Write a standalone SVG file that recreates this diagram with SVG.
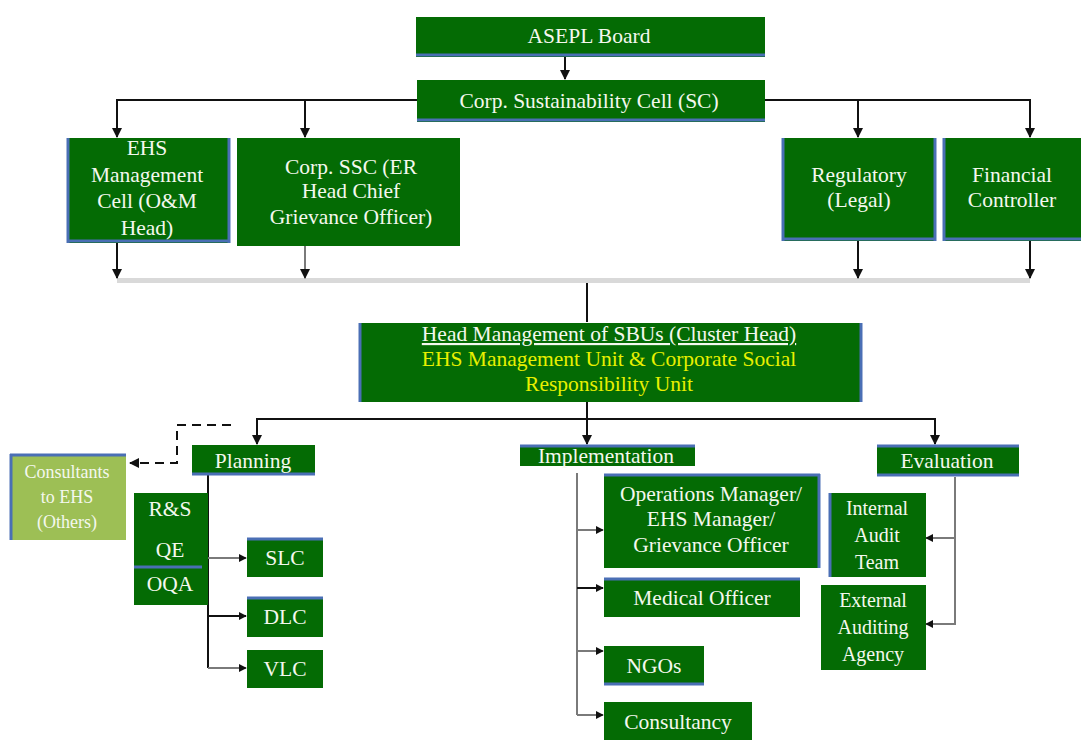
<svg xmlns="http://www.w3.org/2000/svg" width="1081" height="740" viewBox="0 0 1081 740">
<defs>
<marker id="ah" viewBox="0 0 10 10" refX="9" refY="5" markerWidth="5" markerHeight="5" orient="auto" markerUnits="strokeWidth">
<path d="M0,0 L10,5 L0,10 z" fill="#111"/>
</marker>
<marker id="ahl" viewBox="0 0 10 10" refX="9" refY="5" markerWidth="4" markerHeight="4" orient="auto" markerUnits="strokeWidth">
<path d="M0,0 L10,5 L0,10 z" fill="#111"/>
</marker>
</defs>
<style>
.box{fill:#046b04;}
.edge{stroke:#4a6fb5;stroke-width:3;}
.t{font-family:"Liberation Serif","Times New Roman",serif;font-size:21.5px;fill:#f4f8ee;text-anchor:middle;}
.s{font-size:20px;}
.y{fill:#e8f000;}
.c{stroke:#111;stroke-width:2;fill:none;}
.g{stroke:#7a7a7a;stroke-width:2;fill:none;}
</style>
<rect width="1081" height="740" fill="#ffffff"/>

<g id="connectors">
<line class="c" x1="565" y1="57" x2="565" y2="79" marker-end="url(#ah)"/>
<polyline class="c" points="417,100 117,100 117,137" marker-end="url(#ah)"/>
<line class="c" x1="305" y1="100" x2="305" y2="137" marker-end="url(#ah)"/>
<polyline class="c" points="765,100 1030,100 1030,137" marker-end="url(#ah)"/>
<line class="c" x1="858" y1="100" x2="858" y2="137" marker-end="url(#ah)"/>
<rect x="117" y="278" width="913" height="5" fill="#d9d9d9"/>
<line class="c" x1="117" y1="243" x2="117" y2="278" marker-end="url(#ah)"/>
<line class="g" x1="305" y1="246" x2="305" y2="278" marker-end="url(#ah)"/>
<line class="c" x1="858" y1="241" x2="858" y2="278" marker-end="url(#ah)"/>
<line class="c" x1="1030" y1="241" x2="1030" y2="278" marker-end="url(#ah)"/>
<line class="c" x1="587" y1="283" x2="587" y2="322"/>
<line class="c" x1="587" y1="402" x2="587" y2="444" marker-end="url(#ah)"/>
<polyline class="c" points="257,444 257,419 935,419 935,444" marker-end="url(#ah)"/>
<line class="c" x1="257" y1="419" x2="257" y2="444" marker-end="url(#ah)"/>
<polyline class="c" points="231,425 177,425 177,463 130,463" stroke-dasharray="9,6" stroke-width="2.5" marker-end="url(#ah)"/>
<line class="c" x1="208" y1="475" x2="208" y2="668"/>
<line class="g" x1="208" y1="558" x2="246" y2="558" marker-end="url(#ahl)"/>
<line class="c" x1="208" y1="616" x2="246" y2="616" marker-end="url(#ahl)"/>
<line class="g" x1="208" y1="668" x2="246" y2="668" marker-end="url(#ahl)"/>
<line class="g" x1="577" y1="473" x2="577" y2="715"/>
<line class="g" x1="577" y1="530" x2="603" y2="530" marker-end="url(#ahl)"/>
<line class="c" x1="577" y1="588" x2="603" y2="588" marker-end="url(#ahl)"/>
<line class="g" x1="577" y1="651" x2="603" y2="651" marker-end="url(#ahl)"/>
<line class="g" x1="577" y1="715" x2="603" y2="715" marker-end="url(#ahl)"/>
<polyline class="g" points="955,477 955,624 926,624" marker-end="url(#ahl)"/>
<line class="g" x1="955" y1="538" x2="926" y2="538" marker-end="url(#ahl)"/>
</g>

<g id="asepl-board">
<rect class="box" x="416" y="17" width="349" height="40"/>
<line class="edge" x1="416" y1="55" x2="765" y2="55"/>
<text class="t" x="589" y="43">ASEPL Board</text>
</g>
<g id="sustainability-cell">
<rect class="box" x="417" y="80" width="348" height="42"/>
<line class="edge" x1="417" y1="120" x2="765" y2="120"/>
<text class="t" x="589" y="108">Corp. Sustainability Cell (SC)</text>
</g>
<g id="ehs-cell">
<rect class="box" x="67" y="138" width="163" height="105"/>
<line class="edge" x1="67" y1="241" x2="230" y2="241"/>
<line class="edge" x1="68" y1="138" x2="68" y2="243" stroke-width="2"/>
<line class="edge" x1="229" y1="138" x2="229" y2="243" stroke-width="2"/>
<text class="t" x="147" y="155">EHS</text>
<text class="t" x="147" y="182">Management</text>
<text class="t" x="147" y="208">Cell (O&amp;M</text>
<text class="t" x="147" y="235">Head)</text>
</g>
<g id="corp-ssc">
<rect class="box" x="237" y="138" width="223" height="108"/>
<text class="t" x="351" y="174">Corp. SSC (ER</text>
<text class="t" x="351" y="198">Head Chief</text>
<text class="t" x="351" y="224">Grievance Officer)</text>
</g>
<g id="regulatory">
<rect class="box" x="782" y="138" width="154" height="103"/>
<line class="edge" x1="782" y1="239" x2="936" y2="239"/>
<line class="edge" x1="783" y1="138" x2="783" y2="241" stroke-width="2"/>
<line class="edge" x1="935" y1="138" x2="935" y2="241" stroke-width="2"/>
<text class="t" x="859" y="182">Regulatory</text>
<text class="t" x="859" y="207">(Legal)</text>
</g>
<g id="financial">
<rect class="box" x="943" y="138" width="138" height="103"/>
<line class="edge" x1="943" y1="239" x2="1081" y2="239"/>
<line class="edge" x1="944" y1="138" x2="944" y2="241" stroke-width="2"/>
<text class="t" x="1012" y="182">Financial</text>
<text class="t" x="1012" y="207">Controller</text>
</g>
<g id="head-management">
<rect class="box" x="359" y="323" width="503" height="79"/>
<line class="edge" x1="360" y1="323" x2="360" y2="402" stroke-width="2"/>
<line class="edge" x1="861" y1="323" x2="861" y2="402" stroke-width="2"/>
<text class="t" x="609" y="341" text-decoration="underline">Head Management of SBUs (Cluster Head)</text>
<text class="t y" x="609" y="366">EHS Management Unit &amp; Corporate Social</text>
<text class="t y" x="609" y="391">Responsibility Unit</text>
</g>
<g id="planning">
<rect class="box" x="192" y="445" width="123" height="30"/>
<line class="edge" x1="192" y1="474" x2="315" y2="474"/>
<text class="t" x="253" y="468">Planning</text>
</g>
<g id="consultants-ehs">
<rect x="10" y="454" width="116" height="86" fill="#9dbf55"/>
<line class="edge" x1="10" y1="455" x2="126" y2="455"/>
<line class="edge" x1="11" y1="454" x2="11" y2="540" stroke-width="2"/>
<text class="t" x="67" y="478" style="font-size:18px">Consultants</text>
<text class="t" x="67" y="503" style="font-size:18px">to EHS</text>
<text class="t" x="67" y="528" style="font-size:18px">(Others)</text>
</g>
<g id="rs-qe-oqa">
<rect class="box" x="134" y="493" width="74" height="112"/>
<line class="edge" x1="134" y1="567" x2="202" y2="567" stroke-width="2"/>
<text class="t" x="170" y="516">R&amp;S</text>
<text class="t" x="170" y="557">QE</text>
<text class="t" x="170" y="591">OQA</text>
</g>
<g id="slc">
<rect class="box" x="247" y="538" width="76" height="39"/>
<line class="edge" x1="247" y1="539" x2="323" y2="539" stroke-width="2"/>
<text class="t" x="285" y="565">SLC</text>
</g>
<g id="dlc">
<rect class="box" x="247" y="597" width="76" height="40"/>
<line class="edge" x1="247" y1="598" x2="323" y2="598" stroke-width="2"/>
<text class="t" x="285" y="624">DLC</text>
</g>
<g id="vlc">
<rect class="box" x="247" y="650" width="76" height="38"/>
<text class="t" x="285" y="676">VLC</text>
</g>
<g id="implementation">
<rect class="box" x="520" y="445" width="175" height="21"/>
<line class="edge" x1="520" y1="446" x2="695" y2="446" stroke-width="2"/>
<text class="t" x="606" y="463">Implementation</text>
</g>
<g id="operations">
<rect class="box" x="604" y="474" width="216" height="94"/>
<line class="edge" x1="604" y1="475" x2="820" y2="475" stroke-width="2"/>
<line class="edge" x1="819" y1="474" x2="819" y2="568" stroke-width="2"/>
<text class="t" x="711" y="501">Operations Manager/</text>
<text class="t" x="711" y="526">EHS Manager/</text>
<text class="t" x="711" y="552">Grievance Officer</text>
</g>
<g id="medical">
<rect class="box" x="604" y="578" width="196" height="39"/>
<line class="edge" x1="604" y1="579" x2="800" y2="579" stroke-width="2"/>
<text class="t" x="702" y="605">Medical Officer</text>
</g>
<g id="ngos">
<rect class="box" x="604" y="646" width="100" height="39"/>
<line class="edge" x1="604" y1="684" x2="704" y2="684" stroke-width="2"/>
<text class="t" x="654" y="673">NGOs</text>
</g>
<g id="consultancy">
<rect class="box" x="604" y="702" width="148" height="38"/>
<text class="t" x="678" y="729">Consultancy</text>
</g>
<g id="evaluation">
<rect class="box" x="877" y="445" width="142" height="31"/>
<line class="edge" x1="877" y1="446" x2="1019" y2="446" stroke-width="2"/>
<line class="edge" x1="877" y1="475" x2="1019" y2="475" stroke-width="2"/>
<text class="t" x="947" y="468">Evaluation</text>
</g>
<g id="internal-audit">
<rect class="box" x="829" y="493" width="97" height="84"/>
<line class="edge" x1="830" y1="493" x2="830" y2="577" stroke-width="2"/>
<text class="t s" x="877" y="515">Internal</text>
<text class="t s" x="877" y="542">Audit</text>
<text class="t s" x="877" y="569">Team</text>
</g>
<g id="external-audit">
<rect class="box" x="821" y="585" width="105" height="85"/>
<text class="t s" x="873" y="607">External</text>
<text class="t s" x="873" y="634">Auditing</text>
<text class="t s" x="873" y="661">Agency</text>
</g>
</svg>
